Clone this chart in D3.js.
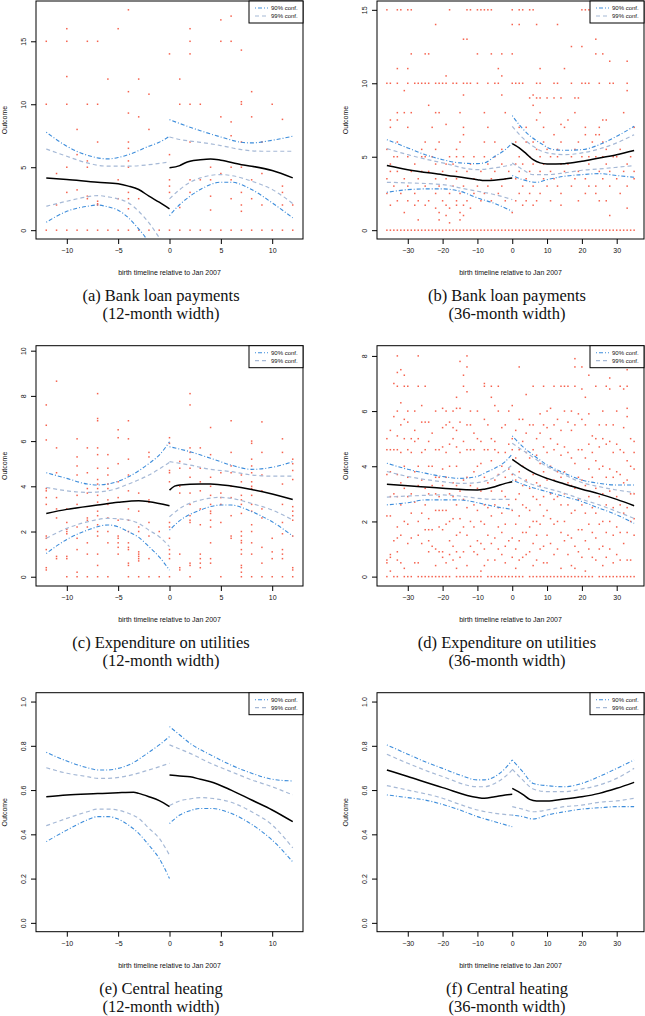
<!DOCTYPE html>
<html><head><meta charset="utf-8">
<script src="https://cdn.jsdelivr.net/npm/d3@7"></script>
<style>body{margin:0;background:#fff}svg{display:block}</style>
</head><body>
<svg id="chart" width="645" height="1016"></svg>
<script>
// ---------- tick labels ----------
const xTicks12 = [-10, -5, 0, 5, 10];
const xTicks36 = [-30, -20, -10, 0, 10, 20, 30];
const yTicksA = [0, 5, 10, 15];
const yTicksB = [0, 5, 10, 15];
const yTicksC = [0, 2, 4, 6, 8, 10];
const yTicksD = [0, 2, 4, 6, 8];
const yTicksE = [0, 0.2, 0.4, 0.6, 0.8, 1.0];
const captions1 = ["(a) Bank loan payments", "(b) Bank loan payments", "(c) Expenditure on utilities",
                   "(d) Expenditure on utilities", "(e) Central heating", "(f) Central heating"];
const captions2 = ["(12-month width)", "(36-month width)", "(12-month width)", "(36-month width)",
                   "(12-month width)", "(36-month width)"];
const legendLabels = ["90% conf.", "99% conf."];

// ---------- scatter points: [x, [y values]] ----------
const ptsA = [
 [-12,[15,10,0]],[-11,[4.5,2,0]],[-10,[16,15,12.2,10,5,3,0]],[-9,[8,6,3.2,0]],
 [-8,[15,10,5.5,5,2.7,2.5,0]],[-7,[15,10,7,2.3,2.1,2,0]],[-6,[12,0]],[-5,[16,4,2.5,0]],
 [-4,[17.5,11,9.3,7,6.5,5.5,5,3,2.5,1.7,0]],[-3,[12,9,2.5,0]],[-2,[10.8,8,0]],[-1,[0]],
 [0,[14,6,4,3.5,3,0]],[1,[12,10,1.8,0]],[2,[16,15,14,10,7,4,3,0]],[3,[10,4,0]],
 [4,[5,4,2.7,1.6,0]],[5,[16.7,15,9,4.5,0]],[6,[17,15,8.6,7.5,5,4,2.5,0]],
 [7,[14.3,10.2,10,7,5,3,2,1.5,0]],[8,[11,9,4,2.5,0]],[9,[7,4.5,2,0]],[10,[10,0]],
 [11,[8.8,3.5,3,2,0]],[12,[2,0]]
];
// panel b points stored by row: [y, [x values]]
const ptsB = [
 [15,[-36,-33,-32,-30,-29,-18,-13,-12,-10,-9,-8,-7,-6,0,2,3,5,6,20,21,22,23,25,27,29]],
 [14,[-22,0,2,7,13]],[13,[-14,-13,24]],[12.5,[17,20]],
 [12,[-29,-25,-24,-10,-6,-3,0,24,26]],[11.5,[28,33]],[11,[-33,-30,-4,8,15]],[10.5,[-19,-3]],
 [10,[-36,-35,-33,-30,-28,-27,-26,-25,-24,-22,-21,-20,-19,-17,-16,-14,-13,-12,-10,-7,-5,-4,0,1,2,3,7,8,12,13,17,20,21,22,25,28,29,33]],
 [9.5,[-31,33]],[9.2,[-14,-3,6]],[9,[5,7,8,10,12,14,18,19]],[8.5,[-24,6]],
 [8,[-33,-31,-29,-22,-21,-15,-8,-2,8,18,32]],[7.5,[-35,-33,7,16,26,27]],[7.2,[-19,14]],
 [7,[-35,-30,-23,-14,-7,2,4,9,15,21,25,35]],[6.5,[-14,12,21,24,25]],
 [6,[-33,-25,-21,-15,-8,-5,1,4,6,9,14,19,23,26]],
 [5.5,[-36,-26,-22,-16,-3,7,10,13,18,27,31]],
 [5,[-34,-33,-30,-26,-25,-23,-18,-16,-14,-11,-8,-5,2,5,8,11,13,17,20,22,24,26,29,30,34]],
 [4.5,[-35,-28,-22,-19,-17,-12,-7,-3,1,3,6,9,14,16,22,27,33]],
 [4,[-35,-33,-29,-26,-24,-20,-16,-13,-9,-5,-1,2,5,8,11,15,19,25,28,32,35]],
 [3.5,[-36,-31,-27,-22,-19,-16,-11,-6,-2,1,4,9,12,18,21,26,30,35]],
 [3,[-34,-30,-25,-21,-17,-14,-10,-7,-3,3,6,10,13,17,22,24,28,33]],
 [2.5,[-36,-32,-28,-22,-18,-15,-11,-8,-4,2,5,8,14,21,24,31]],
 [2,[-33,-30,-27,-24,-20,-16,-13,-9,-6,-2,1,4,7,11,19,25,27]],
 [1.7,[-35,-28,-25,-19,-16,-14,3,6,14]],[1.5,[-22,-18,-12,33]],[1.2,[-31,-21,-15,0]],
 [1,[-19,-14,28]],[0.7,[-27,-21,-15]],[0.5,[-18]],
 [0,[-36,-35,-34,-33,-32,-31,-30,-29,-28,-27,-26,-25,-24,-23,-22,-21,-20,-19,-18,-17,-16,-15,-14,-13,-12,-11,-10,-9,-8,-7,-6,-5,-4,-3,-2,-1,0,1,2,3,4,5,6,7,8,9,10,11,12,13,14,15,16,17,18,19,20,21,22,23,24,25,26,27,28,29,30,31,32,33,34,35]]
];
const ptsC = [
 [-12,[7.6,6.7,6.05,3.9,3.8,3.5,3.2,1.8,1.7,1.2,0.4,0.3]],[-11,[8.65,5.7,4.6,3.5,3.0,2.6,0.9,0.8]],
 [-10,[3.0,2.4,2.1,2.0,1.9,0.9,0.8,0]],[-9,[6.1,5.3,4.9,4.5,3.6,3.2,2.2,1.7,1.2,0.2,0]],
 [-8,[5.7,4.6,3.9,3.7,2.6,2.5,2.2,1.5,1.0,0]],
 [-7,[8.1,7.0,6.9,5.7,5.4,4.8,4.3,4.1,3.9,3.6,3.3,2.9,2.7,2.3,2.0,1.8,1.0,0.5,0]],
 [-6,[5.4,4.8,4.5,4.1,3.9,3.4,3.2,2.6,2.0,1.5,0]],[-5,[6.5,6.15,5.0,4.2,3.5,2.5,1.8,1.7,1.5,1.3,1.0]],
 [-4,[6.9,6.1,5.2,4.5,3.8,3.0,2.5,2.0,1.5,1.3,1.2,0.6,0.5,0]],[-3,[3.7,2.9,2.2,2.0,1.1,1.0,0.9,0.8,0.7,0]],
 [-2,[5.5,5.3,3.4,3.3,2.4,1.8,0.8,0]],[-1,[2.0,0]],[0,[6.15,5.9,4.7,4.6,4.2,2.4,2.2,1.7,1.2,1.0,0.8,0]],
 [1,[5.1,4.8,4.0,3.7,1.0,0.4,0.3]],[2,[8.1,7.6,5.7,5.5,5.2,4.8,4.4,3.7,3.2,2.7,2.5,2.4,0.6,0.5,0]],
 [3,[5.7,4.8,4.2,3.8,3.0,2.3,1.0,0.8,0.6,0.4]],[4,[6.6,5.4,4.4,4.0,3.6,3.2,2.9,2.8,2.5,2.2,1.5,0.8,0.6]],
 [5,[4.6,3.7,3.5,3.2,2.4,0]],[6,[6.9,5.5,4.9,4.6,4.0,3.5,2.7,1.8,1.7]],
 [7,[4.5,4.2,3.6,3.4,3.2,2.8,2.0,1.8,1.6,1.5,1.2,1.0,0.5,0.4,0.2,0]],
 [8,[6.0,5.9,5.2,4.9,4.6,4.2,4.0,3.9,3.6,3.2,2.9,2.3,2.0,1.5,1.0,0]],
 [9,[6.85,5.5,4.5,3.8,3.0,2.6,1.3,0.6,0]],[10,[1.7,1.1,0.8,0]],
 [11,[6.1,5.5,4.1,3.2,2.4,1.9,1.2,1.0,0.8,0]],[12,[5.2,5.0,4.7,4.3,3.1,2.9,2.7,2.5,1.8,0.4,0.3,0]]
];
const ptsD = [
 [-36,[5.0,4.6,3.7,2.2,0.6,0.5,0]],[-35,[5.3,4.6,3.8,2.9,2.2,0.8,0.7,0.2]],[-34,[7.0,5.8,4.6,3.0,1.3,0]],
 [-33,[8.0,7.4,6.9,6.0,5.1,4.6,3.7,2.9,1.8,1.4,0.9,0.6,0]],[-32,[7.5,6.3,5.5,4.5,3.4,2.6,1.5,0.5]],
 [-31,[7.3,6.9,5.7,5.0,4.0,3.2,2.0,0.3,0]],[-30,[6.9,6.0,5.6,4.6,3.6,2.9,1.9,1.2,0]],
 [-29,[5.0,4.5,3.0,2.3,1.4,0]],[-28,[6.0,5.3,4.9,3.8,2.7,0.5]],[-27,[8.0,6.9,5.0,4.0,3.3,2.0,1.5,0.5,0]],
 [-26,[6.2,5.6,4.5,3.5,2.3,1.2,0]],[-25,[6.9,5.6,4.6,3.2,2.6,1.7,0]],
 [-24,[5.6,4.9,4.0,3.0,2.1,1.7,1.3,0.9,0]],[-23,[5.2,4.0,3.3,1.7,1.1,0]],
 [-22,[6.0,4.6,3.6,3.0,2.4,1.0,0.4,0]],[-21,[4.6,3.6,2.9,2.4,1.8,0.9,0]],
 [-20,[6.1,5.4,4.7,3.9,3.3,2.4,1.7,0.9,0.7,0]],[-19,[6.0,5.5,4.5,3.6,2.4,1.9,0.5,0]],
 [-18,[5.6,4.8,4.0,3.0,2.0,1.3,0.8,0]],[-17,[6.0,5.4,5.0,3.4,2.9,2.1,1.1,0.6]],
 [-16,[6.5,6.1,5.3,4.7,4.0,3.3,2.6,1.5,0.9,0.3,0]],[-15,[7.8,6.1,5.6,4.5,3.1,2.1,1.6,0.7,0]],
 [-14,[7.3,6.9,4.9,3.5,2.8,1.8,0.9,0]],[-13,[8.0,7.6,6.7,5.5,4.6,3.6,2.5,1.5,0.4,0]],
 [-12,[6.0,5.5,4.6,3.3,2.0,1.1,0]],[-11,[5.2,4.6,3.8,2.6,1.8,0.9,0]],
 [-10,[6.0,5.0,4.0,3.2,2.4,1.3,0.8,0]],[-9,[4.9,4.1,3.1,2.0,1.2,0.2,0]],
 [-8,[7.0,6.9,5.7,4.6,3.6,2.6,1.9,1.0,0.4]],[-7,[5.5,4.6,3.4,2.5,1.5,0.6,0]],
 [-6,[6.9,6.5,5.0,4.2,3.1,2.2,1.2,0]],[-5,[6.2,4.9,4.6,3.5,2.6,1.4,0.6,0]],
 [-4,[6.9,6.0,4.5,3.7,2.5,1.8,1.0,0]],[-3,[5.4,4.0,3.1,2.3,1.6,0.8,0]],
 [-2,[5.5,4.5,3.6,2.9,1.9,1.1,0.5,0]],[-1,[6.0,4.8,3.9,2.6,1.3,0]],
 [0,[6.2,5.0,4.6,3.7,2.4,1.4,0.7,0]],[1,[5.3,4.3,3.5,2.8,1.9,1.0,0.3,0]],
 [2,[7.6,5.7,4.6,3.8,3.0,2.2,1.3,0.6,0]],[3,[5.7,4.9,4.0,3.3,2.6,1.6,0.7,0]],
 [4,[6.6,5.2,4.5,3.5,2.5,1.6,0.8]],[5,[5.5,4.3,3.2,2.4,1.8,0.9,0]],
 [6,[6.9,5.5,4.6,3.7,2.9,2.0,1.2,0.4,0]],[7,[5.0,4.4,3.4,2.8,2.0,1.5,0.6,0]],
 [8,[5.9,5.2,4.1,3.3,2.6,1.9,1.0,0]],[9,[6.9,5.5,4.7,3.8,2.9,2.2,1.1,0.5,0]],
 [10,[6.0,5.4,4.5,3.5,2.4,1.5,0.5,0]],[11,[6.1,5.0,4.0,3.0,2.1,1.2,0]],
 [12,[6.9,5.5,4.6,3.5,2.8,1.9,0.8,0]],[13,[5.7,4.8,3.8,2.9,2.0,1.0,0]],
 [14,[6.9,5.3,4.4,3.6,2.6,1.6,0.3,0]],[15,[6.9,6.0,4.7,3.8,3.0,2.0,1.3,0]],
 [16,[6.9,5.6,4.5,3.4,2.6,1.5,0.8,0]],[17,[6.0,5.3,4.3,3.3,2.3,1.4,0.4,0]],
 [18,[7.9,7.6,6.9,5.5,4.1,3.2,2.4,1.1,0.3,0]],[19,[5.9,4.6,3.6,2.8,1.7,0.9,0]],
 [20,[7.6,6.8,5.7,4.6,3.5,2.6,1.7,0.7,0]],[21,[6.5,5.5,4.3,3.3,2.3,1.3,0.2,0]],
 [22,[7.3,5.9,4.8,3.9,2.9,1.9,1.0,0]],[23,[5.1,4.5,3.6,2.5,1.6,0.7,0]],
 [24,[6.9,5.0,4.2,3.2,2.3,1.4,0.6]],[25,[5.5,4.7,3.9,2.9,1.9,1.0,0]],
 [26,[6.0,5.0,4.0,3.0,2.0,1.1,0.4,0]],[27,[6.9,5.5,4.8,3.6,2.6,1.6,0.7,0]],
 [28,[7.2,6.8,4.9,3.9,3.1,2.0,1.0,0]],[29,[5.5,4.5,3.6,2.5,1.5,0.5,0]],
 [30,[6.0,4.8,3.8,2.9,1.8,0.8,0]],[31,[6.9,4.6,3.7,2.6,1.6,0.6,0]],
 [32,[6.8,5.4,4.5,3.4,2.3,1.2,0]],[33,[7.5,6.9,6.1,5.8,4.2,3.5,2.5,1.6,0.6,0]],
 [34,[5.0,4.0,3.0,2.0,0.6,0]],[35,[4.9,4.5,3.9,3.0,2.1,1.5,0]]
];

// ---------- fitted lines and confidence bands: [x, y] ----------
// (a)
const aFitL = [[-12,4.15],[-10,4.02],[-7,3.8],[-5,3.68],[-4,3.5],[-3,3.23],[-2,2.7],[-1,2.22],[0,1.7]];
const aFitR = [[0,4.95],[1,5.13],[1.5,5.34],[2,5.48],[3,5.6],[4,5.66],[5,5.56],[7,5.2],[8,5.08],[10,4.74],[12,4.15]];
const aOutUpL = [[-12,7.78],[-10,6.67],[-8,5.95],[-6,5.66],[-5,5.77],[-4,6.0],[-2,6.67],[-1,6.98],[0,7.46]];
const aInUpL = [[-12,6.45],[-10,5.87],[-8,5.34],[-6,5.08],[-4,5.08],[-2,5.2],[0,5.42]];
const aInLoL = [[-12,1.9],[-10,2.3],[-8,2.65],[-7,2.75],[-6,2.65],[-4,2.17],[-3,1.5],[-2,0.58],[-1,-0.6],[0,-1.9]];
const aOutLoL = [[-12,0.63],[-10,1.5],[-8,1.9],[-7,2.0],[-6,1.85],[-5,1.59],[-4,0.98],[-3,0.1],[-2,-1.0],[-1,-2.7],[0,-4.5]];
const aOutUpR = [[0,8.78],[1,8.47],[3,7.9],[5,7.4],[7,6.98],[8,6.93],[10,7.14],[12,7.46]];
const aInUpR = [[0,7.4],[1,7.2],[3,6.98],[5,6.72],[7,6.4],[9,6.27],[12,6.27]];
const aInLoR = [[0,2.49],[1,3.23],[2,3.8],[3,4.15],[5,4.42],[6,4.34],[8,3.89],[10,3.23],[12,2.12]];
const aOutLoR = [[0,1.16],[1,2.04],[2,2.7],[3,3.23],[5,3.81],[6,3.81],[8,3.23],[10,2.17],[12,0.98]];
// (b)
const bFitL = [[-36,4.4],[-30,4.12],[-20,3.78],[-10,3.44],[-8,3.38],[-4,3.44],[0,3.56]];
const bFitR = [[0,5.89],[2,5.6],[4,5.21],[6,4.8],[8,4.58],[10,4.51],[15,4.53],[20,4.69],[25,4.92],[30,5.14],[35,5.42]];
const bOutUpL = [[-36,6.16],[-30,5.6],[-25,5.14],[-20,4.8],[-15,4.58],[-10,4.53],[-8,4.58],[-5,5.03],[-2,5.48],[0,5.94]];
const bInUpL = [[-36,5.55],[-30,5.14],[-20,4.58],[-10,4.12],[-5,4.24],[0,4.46]];
const bInLoL = [[-36,3.26],[-30,3.22],[-20,3.1],[-15,2.88],[-10,2.65],[-5,2.42],[0,2.08]];
const bOutLoL = [[-36,2.58],[-30,2.76],[-25,2.81],[-20,2.81],[-15,2.65],[-10,2.2],[-5,1.81],[0,1.29]];
const bOutUpR = [[0,7.8],[2,7.18],[5,6.44],[8,5.94],[12,5.48],[15,5.44],[20,5.48],[25,5.82],[30,6.39],[35,7.07]];
const bInUpR = [[0,7.07],[3,6.28],[6,5.71],[10,5.26],[15,5.14],[20,5.26],[25,5.53],[30,5.94],[35,6.5]];
const bInLoR = [[0,4.58],[3,4.12],[6,3.78],[10,3.78],[15,3.9],[20,4.08],[25,4.17],[30,4.28],[35,4.4]];
const bOutLoR = [[0,3.72],[3,3.44],[7,3.26],[10,3.44],[15,3.67],[20,3.78],[25,3.85],[30,3.72],[35,3.6]];
// (c)
const cFitL = [[-12,2.8],[-10,2.98],[-7,3.17],[-5,3.29],[-3,3.36],[-2,3.32],[0,3.14]];
const cFitR = [[0,3.83],[0.5,4.01],[1,4.06],[3,4.1],[4,4.1],[6,4.01],[8,3.86],[10,3.66],[12,3.42]];
const cOutUpL = [[-12,4.6],[-10,4.35],[-8,4.1],[-7,4.06],[-6,4.1],[-4,4.42],[-2,5.01],[-1,5.38],[0,5.97]];
const cInUpL = [[-12,3.95],[-10,3.8],[-8,3.73],[-6,3.8],[-4,4.1],[-2,4.5],[0,5.06]];
const cInLoL = [[-12,1.7],[-10,2.14],[-8,2.43],[-6,2.58],[-4,2.51],[-3,2.36],[-2,2.06],[-1,1.77],[0,1.33]];
const cOutLoL = [[-12,1.03],[-10,1.65],[-8,2.06],[-6,2.29],[-5,2.21],[-4,1.99],[-3,1.74],[-2,1.33],[-1,0.88],[0,0.29]];
const cOutUpR = [[0,5.75],[2,5.53],[4,5.24],[6,4.94],[8,4.75],[10,4.84],[12,5.09]];
const cInUpR = [[0,5.09],[2,4.94],[4,4.75],[6,4.65],[8,4.5],[10,4.45],[12,4.45]];
const cInLoR = [[0,2.65],[1,3.02],[3,3.39],[5,3.51],[6,3.47],[8,3.24],[10,2.95],[12,2.51]];
const cOutLoR = [[0,2.06],[1,2.48],[3,2.95],[5,3.17],[6,3.17],[8,2.88],[10,2.43],[12,1.8]];
// (d)
const dFitL = [[-36,3.35],[-30,3.29],[-20,3.2],[-10,3.14],[-8,3.17],[-5,3.26],[-2,3.38],[0,3.44]];
const dFitR = [[0,4.25],[3,3.99],[6,3.77],[10,3.56],[15,3.36],[20,3.17],[25,3.0],[30,2.8],[35,2.57]];
const dOutUpL = [[-36,4.11],[-30,3.89],[-25,3.75],[-20,3.63],[-15,3.56],[-10,3.63],[-8,3.75],[-5,3.93],[-2,4.17],[0,4.45]];
const dInUpL = [[-36,3.81],[-30,3.63],[-20,3.44],[-15,3.38],[-10,3.41],[-5,3.6],[0,4.05]];
const dInLoL = [[-36,2.88],[-30,2.92],[-20,2.96],[-15,2.92],[-10,2.84],[-5,2.8],[0,2.8]];
const dOutLoL = [[-36,2.6],[-30,2.68],[-25,2.78],[-20,2.78],[-15,2.78],[-10,2.68],[-5,2.54],[0,2.44]];
const dOutUpR = [[0,5.1],[3,4.71],[6,4.41],[10,4.05],[15,3.75],[20,3.5],[25,3.38],[30,3.32],[35,3.32]];
const dInUpR = [[0,4.83],[5,4.41],[10,3.99],[15,3.69],[20,3.41],[25,3.26],[30,3.14],[35,3.05]];
const dInLoR = [[0,3.75],[5,3.38],[10,3.2],[15,3.02],[20,2.8],[25,2.6],[30,2.36],[35,2.11]];
const dOutLoR = [[0,3.5],[5,3.26],[10,3.08],[15,2.9],[20,2.72],[25,2.48],[30,2.24],[35,1.93]];
// (e)
const eFitL = [[-12,0.57],[-10,0.578],[-7,0.584],[-5,0.588],[-3.5,0.59],[-3,0.585],[-2,0.57],[-1,0.552],[0,0.525]];
const eFitR = [[0,0.668],[1,0.664],[2,0.66],[3,0.649],[4,0.638],[6,0.6],[8,0.555],[10,0.51],[12,0.457]];
const eOutUpL = [[-12,0.771],[-10,0.731],[-8,0.701],[-7,0.691],[-6,0.691],[-5,0.698],[-4,0.713],[-2,0.771],[-1,0.804],[0,0.842]];
const eInUpL = [[-12,0.701],[-10,0.676],[-8,0.661],[-7,0.653],[-6,0.653],[-4,0.665],[-2,0.691],[0,0.721]];
const eInLoL = [[-12,0.439],[-10,0.472],[-8,0.502],[-7,0.514],[-6,0.514],[-4,0.495],[-3,0.472],[-2,0.427],[-1,0.382],[0,0.306]];
const eOutLoL = [[-12,0.367],[-10,0.419],[-8,0.465],[-7,0.48],[-6,0.48],[-5,0.469],[-4,0.442],[-3,0.404],[-2,0.351],[-1,0.291],[0,0.2]];
const eOutUpR = [[0,0.887],[1,0.849],[2,0.811],[4,0.759],[6,0.713],[8,0.676],[10,0.649],[12,0.641]];
const eInUpR = [[0,0.804],[2,0.766],[4,0.721],[6,0.683],[8,0.646],[10,0.615],[12,0.578]];
const eInLoR = [[0,0.53],[1,0.551],[2,0.56],[3,0.566],[4,0.563],[6,0.545],[8,0.502],[10,0.442],[12,0.339]];
const eOutLoR = [[0,0.449],[1,0.487],[2,0.507],[3,0.517],[4,0.517],[6,0.495],[8,0.445],[10,0.374],[12,0.276]];
// (f)
const fFitL = [[-36,0.691],[-30,0.661],[-20,0.611],[-10,0.566],[-8,0.563],[-5,0.57],[-2,0.578],[0,0.581]];
const fFitR = [[0,0.608],[3,0.581],[5,0.558],[7,0.551],[10,0.551],[15,0.56],[20,0.57],[25,0.585],[30,0.608],[35,0.635]];
const fOutUpL = [[-36,0.804],[-30,0.762],[-25,0.728],[-20,0.698],[-15,0.668],[-10,0.646],[-8,0.646],[-5,0.661],[-2,0.698],[0,0.736]];
const fInUpL = [[-36,0.762],[-30,0.721],[-20,0.661],[-10,0.615],[-8,0.615],[-5,0.63],[-2,0.661],[0,0.691]];
const fInLoL = [[-36,0.62],[-30,0.6],[-20,0.563],[-15,0.535],[-10,0.51],[-5,0.495],[0,0.487]];
const fOutLoL = [[-36,0.578],[-30,0.566],[-25,0.555],[-20,0.535],[-15,0.51],[-10,0.48],[-5,0.457],[0,0.434]];
const fOutUpR = [[0,0.736],[3,0.683],[6,0.63],[10,0.62],[15,0.615],[20,0.63],[25,0.661],[30,0.698],[35,0.736]];
const fInUpR = [[0,0.695],[3,0.646],[6,0.605],[10,0.593],[15,0.593],[20,0.605],[25,0.623],[30,0.653],[35,0.698]];
const fInLoR = [[0,0.525],[3,0.514],[6,0.502],[10,0.51],[15,0.525],[20,0.532],[25,0.545],[30,0.551],[35,0.563]];
const fOutLoR = [[0,0.487],[3,0.48],[6,0.469],[10,0.487],[15,0.502],[20,0.514],[25,0.52],[30,0.525],[35,0.525]];

// ---------- helpers to flatten point data ----------
const byCol = arr => arr.flatMap(([x, ys]) => ys.map(y => [x, y]));
const byRow = arr => arr.flatMap(([y, xs]) => xs.map(x => [x, y]));

const svg = d3.select("#chart");
const COL_L = {l: 36, r: 303, cap: 161}, COL_R = {l: 377, r: 644, cap: 507};
const ROWS = [{t: 1, b: 239}, {t: 345.7, b: 586}, {t: 692.7, b: 931.7}];
const X12 = [-13, 13], X36 = [-38.84, 37.84];

const panels = [
  {col: COL_L, row: ROWS[0], xd: X12, yd: [-0.7, 18.2], xt: xTicks12, yt: yTicksA, pts: byCol(ptsA),
   curves: [aFitL, aFitR, aOutUpL, aInUpL, aInLoL, aOutLoL, aOutUpR, aInUpR, aInLoR, aOutLoR]},
  {col: COL_R, row: ROWS[0], xd: X36, yd: [-0.6, 15.6], xt: xTicks36, yt: yTicksB, pts: byRow(ptsB),
   curves: [bFitL, bFitR, bOutUpL, bInUpL, bInLoL, bOutLoL, bOutUpR, bInUpR, bInLoR, bOutLoR]},
  {col: COL_L, row: ROWS[1], xd: X12, yd: [-0.41, 10.22], xt: xTicks12, yt: yTicksC, pts: byCol(ptsC),
   curves: [cFitL, cFitR, cOutUpL, cInUpL, cInLoL, cOutLoL, cOutUpR, cInUpR, cInLoR, cOutLoR]},
  {col: COL_R, row: ROWS[1], xd: X36, yd: [-0.34, 8.37], xt: xTicks36, yt: yTicksD, pts: byCol(ptsD),
   curves: [dFitL, dFitR, dOutUpL, dInUpL, dInLoL, dOutLoL, dOutUpR, dInUpR, dInLoR, dOutLoR]},
  {col: COL_L, row: ROWS[2], xd: X12, yd: [-0.04, 1.04], xt: xTicks12, yt: yTicksE, pts: [], fmt: d3.format(".1f"),
   curves: [eFitL, eFitR, eOutUpL, eInUpL, eInLoL, eOutLoL, eOutUpR, eInUpR, eInLoR, eOutLoR]},
  {col: COL_R, row: ROWS[2], xd: X36, yd: [-0.04, 1.04], xt: xTicks36, yt: yTicksE, pts: [], fmt: d3.format(".1f"),
   curves: [fFitL, fFitR, fOutUpL, fInUpL, fInLoL, fOutLoL, fOutUpR, fInUpR, fInLoR, fOutLoR]}
];

// curve roles: 0-1 fit, outer = dot-dash 90%, inner = dashed 99%
const STYLE_FIT = {stroke: "#000", w: 1.5, dash: null};
const STYLE_90 = {stroke: "#3d8ddb", w: 1.1, dash: "1,2,4,2"};
const STYLE_99 = {stroke: "#a6b9d6", w: 1.2, dash: "4,3"};
const roleStyles = [STYLE_FIT, STYLE_FIT, STYLE_90, STYLE_99, STYLE_99, STYLE_90, STYLE_90, STYLE_99, STYLE_99, STYLE_90];

const FONT = "'Liberation Sans', Arial, Helvetica, sans-serif";
const SERIF = "'Liberation Serif', 'Times New Roman', serif";

panels.forEach((p, i) => {
  const L = p.col.l, R = p.col.r, T = p.row.t, B = p.row.b;
  const x = d3.scaleLinear().domain(p.xd).range([L, R]);
  const y = d3.scaleLinear().domain(p.yd).range([B, T]);
  const g = svg.append("g");
  const clipId = "clip" + i;
  svg.append("clipPath").attr("id", clipId).append("rect")
    .attr("x", L).attr("y", T).attr("width", R - L).attr("height", B - T);

  // points
  g.append("g").attr("clip-path", `url(#${clipId})`).selectAll("rect").data(p.pts).join("rect")
    .attr("x", d => x(d[0]) - 0.75).attr("y", d => y(d[1]) - 0.75)
    .attr("width", 1.5).attr("height", 1.5).attr("fill", "#f4472f").attr("opacity", 0.85);

  // curves
  const line = d3.line().x(d => x(d[0])).y(d => y(d[1])).curve(d3.curveMonotoneX);
  const cg = g.append("g").attr("clip-path", `url(#${clipId})`);
  const order = [2,3,4,5,6,7,8,9,0,1];
  order.forEach(k => {
    const s = roleStyles[k];
    cg.append("path").attr("d", line(p.curves[k])).attr("fill", "none")
      .attr("stroke", s.stroke).attr("stroke-width", s.w)
      .attr("stroke-dasharray", s.dash);
  });

  // axes
  const xa = d3.axisBottom(x).tickValues(p.xt).tickSize(5).tickPadding(4);
  const gx = g.append("g").attr("transform", `translate(0,${B})`).call(xa);
  gx.select(".domain").remove();
  gx.selectAll("text").attr("font-size", 7).attr("font-family", FONT).attr("fill", "#111");
  gx.selectAll("line").attr("stroke", "#000");

  const ya = d3.axisLeft(y).tickValues(p.yt).tickSize(5);
  if (p.fmt) ya.tickFormat(p.fmt);
  const gy = g.append("g").attr("transform", `translate(${L},0)`).call(ya);
  gy.select(".domain").remove();
  gy.selectAll("line").attr("stroke", "#000");
  gy.selectAll("text").attr("x", null).attr("dy", null)
    .attr("transform", "translate(-10,0) rotate(-90)")
    .attr("text-anchor", "middle").attr("font-size", 7).attr("font-family", FONT).attr("fill", "#111");

  // box
  g.append("rect").attr("x", L).attr("y", T).attr("width", R - L).attr("height", B - T)
    .attr("fill", "none").attr("stroke", "#000").attr("stroke-width", 1);

  // axis titles
  g.append("text").attr("x", (L + R) / 2).attr("y", B + 36)
    .attr("text-anchor", "middle").attr("font-size", 7).attr("font-family", FONT).attr("fill", "#111")
    .text("birth timeline relative to Jan 2007");
  g.append("text").attr("transform", `translate(${L - 29},${(T + B) / 2}) rotate(-90)`)
    .attr("text-anchor", "middle").attr("font-size", 7).attr("font-family", FONT).attr("fill", "#111")
    .text("Outcome");

  // legend
  const lw = 54, lh = 22, lx = R - lw, ly = T;
  const lg = g.append("g");
  lg.append("rect").attr("x", lx).attr("y", ly).attr("width", lw).attr("height", lh)
    .attr("fill", "#fff").attr("stroke", "#000").attr("stroke-width", 1);
  [STYLE_90, STYLE_99].forEach((s, j) => {
    const yy = ly + 7 + j * 8;
    lg.append("line").attr("x1", lx + 6).attr("x2", lx + 19).attr("y1", yy).attr("y2", yy)
      .attr("stroke", s.stroke).attr("stroke-width", s.w).attr("stroke-dasharray", s.dash);
    lg.append("text").attr("x", lx + 22).attr("y", yy + 2)
      .attr("font-size", 6).attr("font-family", FONT).attr("fill", "#111").text(legendLabels[j]);
  });

  // captions
  const cx = p.col.cap;
  svg.append("text").attr("x", cx).attr("y", B + 62).attr("text-anchor", "middle")
    .attr("font-size", 16.5).attr("font-family", SERIF).attr("fill", "#111").text(captions1[i]);
  svg.append("text").attr("x", cx).attr("y", B + 80).attr("text-anchor", "middle")
    .attr("font-size", 16.5).attr("font-family", SERIF).attr("fill", "#111").text(captions2[i]);
});
</script>
</body></html>
